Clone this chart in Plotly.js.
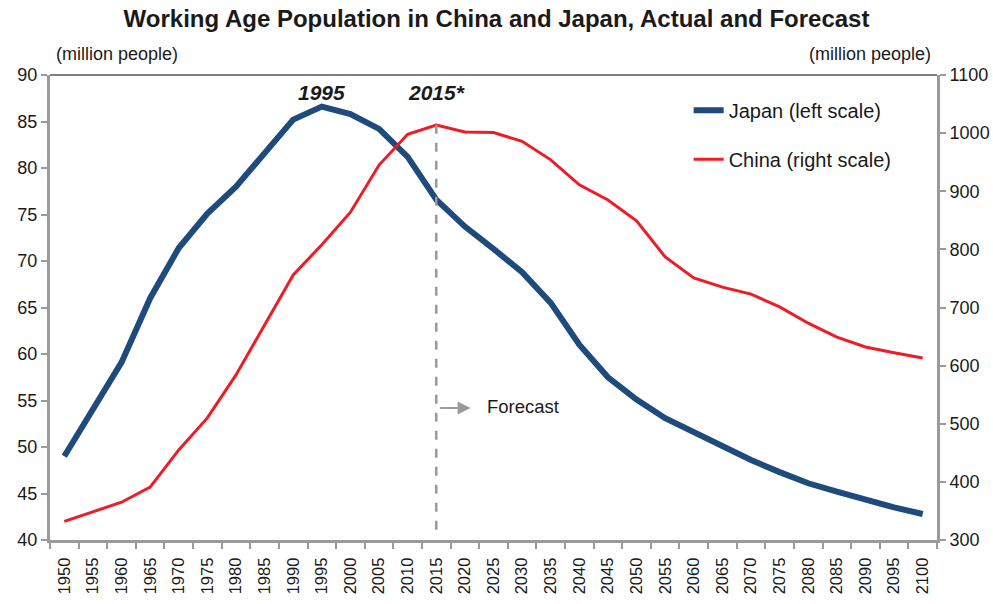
<!DOCTYPE html>
<html>
<head>
<meta charset="utf-8">
<script src="https://cdn.plot.ly/plotly-3.0.1.min.js"></script>
<style>html,body{margin:0;padding:0;background:#fff;}#chart{width:993px;height:604px;}</style>
</head>
<body>
<div id="chart"></div>
<script>
var years = ["1950","1955","1960","1965","1970","1975","1980","1985","1990","1995","2000","2005","2010","2015","2020","2025","2030","2035","2040","2045","2050","2055","2060","2065","2070","2075","2080","2085","2090","2095","2100"];
var japan = [49.0,54.0,59.1,66.0,71.4,75.1,78.0,81.6,85.2,86.6,85.8,84.2,81.2,76.6,73.7,71.3,68.8,65.5,61.0,57.5,55.1,53.1,51.6,50.0,48.6,47.3,46.1,45.2,44.3,43.5,42.8];
var china = [332,348,365,391,455,510,584,670,756,808,864,945,998,1014,1002,1001,986,954,911,885,849,787,751,735,723,701,673,649,632,622,613];
var leftTicks = [40,45,50,55,60,65,70,75,80,85,90];
var rightTicks = [300,400,500,600,700,800,900,1000,1100];

var FONT = "Liberation Sans, Arial, sans-serif";
var TXT = "#1a1a1a";
var GRAY = "#9a9a9a";

var traces = [
  {x: years, y: japan, type: "scatter", mode: "lines", name: "Japan (left scale)", yaxis: "y",
   line: {color: "#1F4A7C", width: 6}, legendgroup: "a"},
  {x: years, y: china, type: "scatter", mode: "lines", name: "China (right scale)", yaxis: "y2",
   line: {color: "#EE1C25", width: 3}, legendgroup: "b"}
];

var layout = {
  width: 993, height: 604,
  margin: {l: 50, r: 56, t: 75, b: 64},
  paper_bgcolor: "#fff", plot_bgcolor: "#fff",
  font: {family: FONT, color: TXT},
  title: {text: "<b>Working Age Population in China and Japan, Actual and Forecast</b>",
          font: {size: 24, family: FONT, color: TXT}, x: 0.5, xanchor: "center", y: 0.97, yanchor: "middle"},
  showlegend: true,
  legend: {x: 0.72, y: 0.966, xanchor: "left", yanchor: "top", bgcolor: "rgba(0,0,0,0)",
           font: {size: 20, family: FONT, color: TXT}, traceorder: "grouped", tracegroupgap: 20},
  xaxis: {type: "category", range: [-0.5, 30.5], tickson: "boundaries", showgrid: false,
          showline: true, linecolor: GRAY, linewidth: 3, ticks: "outside", tickcolor: GRAY, ticklen: 6, tickwidth: 2,
          ticklabelstandoff: 8,
          tickangle: -90, tickfont: {size: 16.5, family: FONT, color: TXT}, zeroline: false, fixedrange: true},
  yaxis: {range: [40, 90], tickvals: leftTicks, showgrid: false, zeroline: false,
          showline: true, linecolor: GRAY, linewidth: 3, ticks: "outside", tickcolor: GRAY, ticklen: 6, tickwidth: 2,
          tickfont: {size: 18, family: FONT, color: TXT}, fixedrange: true},
  yaxis2: {range: [300, 1100], tickvals: rightTicks, overlaying: "y", side: "right", showgrid: false, zeroline: false,
          showline: true, linecolor: GRAY, linewidth: 3, ticks: "outside", tickcolor: GRAY, ticklen: 6, tickwidth: 2,
          tickfont: {size: 18, family: FONT, color: TXT}, fixedrange: true},
  shapes: [
    {type: "line", xref: "paper", yref: "paper", x0: 0, x1: 1, y0: 1, y1: 1, line: {color: "#000", width: 1}},
    {type: "line", xref: "x", yref: "paper", x0: 13, x1: 13, y0: 0.022, y1: 0.9, line: {color: GRAY, width: 2.5, dash: "dash"}}
  ],
  annotations: [
    {xref: "paper", yref: "paper", x: 0.005, y: 1.045, xanchor: "left", yanchor: "middle", showarrow: false,
     text: "(million people)", font: {size: 18, family: FONT, color: TXT}},
    {xref: "paper", yref: "paper", x: 0.995, y: 1.045, xanchor: "right", yanchor: "middle", showarrow: false,
     text: "(million people)", font: {size: 18, family: FONT, color: TXT}},
    {xref: "x", yref: "paper", x: 9, y: 0.962, xanchor: "center", yanchor: "middle", showarrow: false,
     text: "<b><i>1995</i></b>", font: {size: 21, family: FONT, color: TXT}},
    {xref: "x", yref: "paper", x: 13, y: 0.962, xanchor: "center", yanchor: "middle", showarrow: false,
     text: "<b><i>2015*</i></b>", font: {size: 21, family: FONT, color: TXT}},
    {xref: "x", yref: "y", x: 14.2, y: 54.2, ax: -32, ay: 0, axref: "pixel", ayref: "pixel", text: "",
     showarrow: true, arrowhead: 2, arrowsize: 1.3, arrowwidth: 2, arrowcolor: GRAY},
    {xref: "x", yref: "y", x: 14.7, y: 54.4, xanchor: "left", yanchor: "middle", showarrow: false,
     text: "Forecast", font: {size: 18.5, family: FONT, color: TXT}}
  ]
};

Plotly.newPlot("chart", traces, layout, {displayModeBar: false, staticPlot: true});
</script>
</body>
</html>
